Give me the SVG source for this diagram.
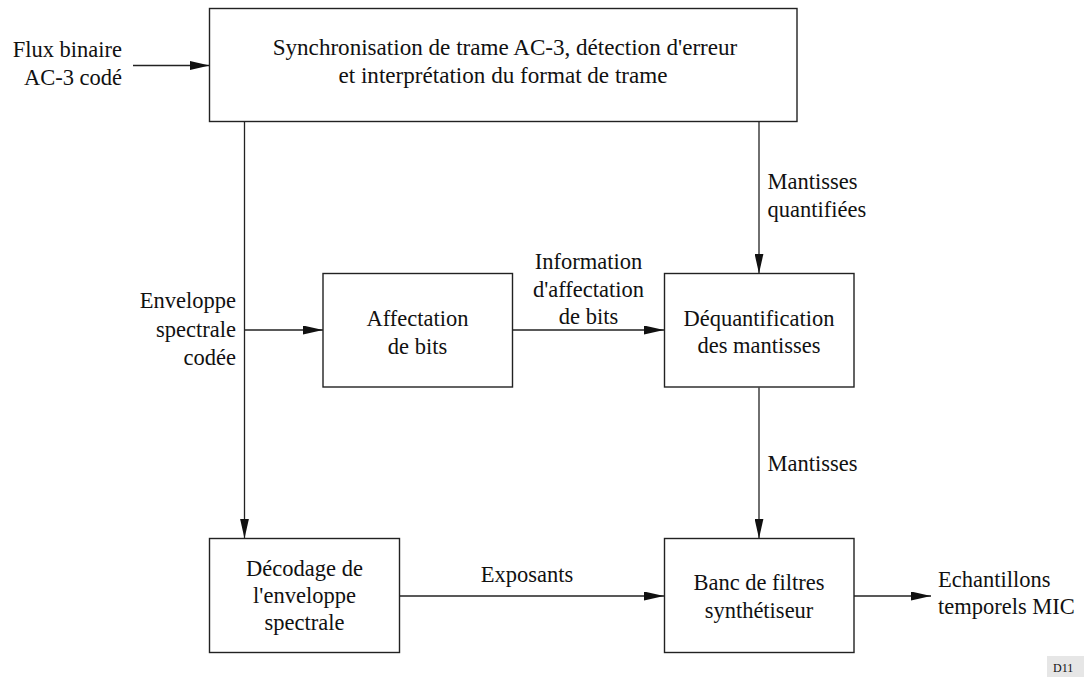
<svg xmlns="http://www.w3.org/2000/svg" width="1084" height="677" viewBox="0 0 1084 677" font-family="'Liberation Serif', 'DejaVu Serif', serif">
  <style>
    .box { fill: #fff; stroke: #222; stroke-width: 1.4; }
    .wire { fill: none; stroke: #222; stroke-width: 1.3; }
    text { font-family: 'Liberation Serif', 'DejaVu Serif', serif; font-size: 22.5px; fill: #111; }
    .c { text-anchor: middle; }
    .r { text-anchor: end; }
    .big { font-size: 23.1px; }
    .tag { font-size: 12px; }
  </style>
  <defs>
    <marker id="head" viewBox="0 0 20 9" refX="20" refY="4.5" markerWidth="20" markerHeight="9" markerUnits="userSpaceOnUse" orient="auto">
      <path d="M0,0 L20,4.5 L0,9 z" fill="#111"/>
    </marker>
  </defs>
  <rect width="1084" height="677" fill="#fff"/>

  <g id="connectors">
    <path class="wire" d="M133,65.5 H209.5" marker-end="url(#head)"/>
    <path class="wire" d="M244.5,122 V538.5" marker-end="url(#head)"/>
    <path class="wire" d="M244.5,330 H323" marker-end="url(#head)"/>
    <path class="wire" d="M512.5,330 H664" marker-end="url(#head)"/>
    <path class="wire" d="M759,122 V273.5" marker-end="url(#head)"/>
    <path class="wire" d="M759,387.5 V538.5" marker-end="url(#head)"/>
    <path class="wire" d="M399.5,596 H664" marker-end="url(#head)"/>
    <path class="wire" d="M854,596 H931" marker-end="url(#head)"/>
  </g>

  <g id="labels">
    <text class="r" x="122" y="57">Flux binaire</text>
    <text class="r" x="122" y="85">AC-3 codé</text>
    <text class="r" x="236" y="308">Enveloppe</text>
    <text class="r" x="236" y="337">spectrale</text>
    <text class="r" x="236" y="365">codée</text>
    <text class="c" x="588.5" y="269">Information</text>
    <text class="c" x="588.5" y="297">d'affectation</text>
    <text class="c" x="588.5" y="324">de bits</text>
    <text x="767.5" y="189">Mantisses</text>
    <text x="767.5" y="217">quantifiées</text>
    <text x="767.5" y="471">Mantisses</text>
    <text class="c" x="527" y="582">Exposants</text>
    <text x="938" y="587">Echantillons</text>
    <text x="938" y="614">temporels MIC</text>
  </g>

  <g id="sync">
    <rect class="box" x="209.5" y="8.5" width="587.5" height="113"/>
    <text class="c big" x="505" y="55">Synchronisation de trame AC-3, détection d'erreur</text>
    <text class="c big" x="503" y="83">et interprétation du format de trame</text>
  </g>

  <g id="affectation">
    <rect class="box" x="323" y="273.5" width="189.5" height="113.5"/>
    <text class="c" x="417.5" y="326">Affectation</text>
    <text class="c" x="417.5" y="354">de bits</text>
  </g>

  <g id="dequantification">
    <rect class="box" x="664.5" y="273.5" width="189.5" height="113.5"/>
    <text class="c" x="759" y="326">Déquantification</text>
    <text class="c" x="759" y="353">des mantisses</text>
  </g>

  <g id="decodage">
    <rect class="box" x="209.5" y="538.5" width="190" height="114"/>
    <text class="c" x="304.5" y="576">Décodage de</text>
    <text class="c" x="304.5" y="603">l'enveloppe</text>
    <text class="c" x="304.5" y="630">spectrale</text>
  </g>

  <g id="banc">
    <rect class="box" x="664.5" y="538.5" width="189.5" height="114"/>
    <text class="c" x="759" y="590">Banc de filtres</text>
    <text class="c" x="759" y="618">synthétiseur</text>
  </g>

  <g id="ref-tag">
    <rect x="1047" y="656" width="40" height="24" fill="#e6e6e6"/>
    <text class="tag" x="1053" y="672">D11</text>
  </g>
</svg>
